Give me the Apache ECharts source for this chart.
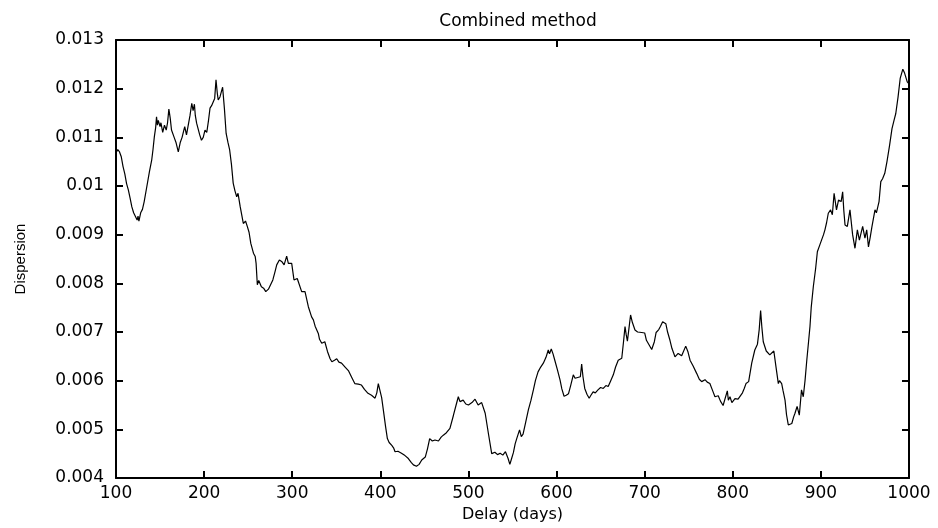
<!DOCTYPE html>
<html>
<head>
<meta charset="utf-8">
<script src="https://cdn.jsdelivr.net/npm/echarts@6/dist/echarts.min.js"></script>
<style>html,body{margin:0;padding:0;background:#fff;}#c{width:938px;height:528px;}</style>
</head>
<body>
<div id="c"></div>
<script>
const titleText = 'Combined method';
const xName = 'Delay (days)';
const yName = 'Dispersion';

const days = [
100,102,104,106,108,110,112,114,116,118,120,122,124,125,126,128,130,132,135,138,140.5,142,143.5,145,146,147,148,150,151,153,155,157,158.5,160,161.5,163,166,168,170.7,173,175,177,178,180,182,184,186,187.5,189,190,191.5,193,195,197,199,201,203,205,206.7,208.5,210,212,213.5,215,216,218,219.5,221,223,225,227,229,231,233,235,237,238.5,241,242.5,244.5,247,249,251,253,256,258,259,260.4,262,265,267.5,270,273,275,278,280.5,282.4,285.4,288,290.8,293.7,295.6,299.4,302,305.7,310.7,314.5,318.3,322,324,326,329.6,331,333.5,337,340,343,345,348,350.5,353,356,360,364,368,371,375,378.6,382,386,390,394,396,397.7,399.6,401.5,403.4,406,408,410,413,415,416.7,420,424,428,431.8,435,437.5,441,444,447,451,453.5,456,459,462,466,469,471.5,475,479,483,486,488.5,490.4,494,497,500,504,507.5,511,515,519,522.6,526.4,530,533,536,539,542,545,547,549,551,553,554.8,558,560,562,565,568,571,573.7,576,579,582,585,588,590.6,592,594,596,598,601,604,606,608.5,611,613.5,616,619,621,623,627,628.5,630,632,634.5,637,639,641.5,644,647,650,653,656,658.6,661,664.4,667,670,674,676,677.7,679,680.4,682,684,686,689,692,696.6,700,702,704,708,711,713,716,718,720.4,724,726,728.7,731,734.4,738,742,746.6,749,751.5,755,759,762,764.7,768.5,771,774,777,779.8,783.5,786,789,791,793.8,795,796.8,799,802.5,806,808,811,813,815,818,821.5,825,828,830,831.6,833,834.6,838,842,844,846.6,849,851.7,853,855.5,857,859.3,861,863,865,867,869,870.6,873,875.5,878,880,882,884,886,887.6,889,891.4,894,896,899,901,903,904.6,906.5,908.4,911,913,915,917.7,920,923,924.7,926,927.4,930,933,936,938.7,941.4,943.7,947.4,950,952,954,956,958,961.4,963,966,968,970,972.5,975,978,980.7,983,985,987.6,990,993,995,998,1000
];

const dispersion = [
0.01068,0.01075,0.01070,0.01060,0.01040,0.01025,0.01005,0.00992,0.00975,0.00957,0.00945,0.00942,0.00930,0.00938,0.00928,0.00945,0.00952,0.00968,0.00999,0.01030,0.01053,0.01075,0.01101,0.01120,0.01142,0.01125,0.01135,0.01122,0.01130,0.01110,0.01125,0.01115,0.01130,0.01158,0.01140,0.01115,0.01100,0.01090,0.01070,0.01090,0.01100,0.01115,0.01122,0.01105,0.01125,0.01145,0.01170,0.01155,0.01168,0.01145,0.01129,0.01125,0.01105,0.01094,0.01100,0.01115,0.01110,0.01135,0.01160,0.01165,0.01168,0.01180,0.01218,0.01190,0.01177,0.01183,0.01180,0.01203,0.01160,0.01108,0.01090,0.01074,0.01045,0.01006,0.00990,0.00978,0.00985,0.00957,0.00960,0.00923,0.00928,0.00917,0.00905,0.00882,0.00862,0.00855,0.00841,0.00797,0.00806,0.00793,0.00790,0.00783,0.00788,0.00786,0.00807,0.00824,0.00838,0.00848,0.00845,0.00838,0.00856,0.00841,0.00841,0.00807,0.00810,0.00783,0.00783,0.00752,0.00731,0.00725,0.00712,0.00697,0.00685,0.00677,0.00680,0.00660,0.00645,0.00639,0.00642,0.00645,0.00638,0.00636,0.00628,0.00620,0.00605,0.00594,0.00593,0.00591,0.00582,0.00574,0.00570,0.00564,0.00575,0.00594,0.00592,0.00565,0.00540,0.00505,0.00481,0.00473,0.00467,0.00462,0.00454,0.00455,0.00451,0.00446,0.00440,0.00432,0.00427,0.00424,0.00428,0.00437,0.00443,0.00460,0.00481,0.00476,0.00478,0.00476,0.00484,0.00488,0.00493,0.00502,0.00529,0.00550,0.00567,0.00557,0.00560,0.00552,0.00550,0.00555,0.00562,0.00550,0.00555,0.00533,0.00492,0.00450,0.00453,0.00448,0.00451,0.00447,0.00454,0.00440,0.00428,0.00440,0.00452,0.00470,0.00481,0.00499,0.00485,0.00490,0.00515,0.00540,0.00560,0.00581,0.00600,0.00618,0.00628,0.00636,0.00648,0.00663,0.00655,0.00665,0.00655,0.00642,0.00622,0.00601,0.00583,0.00568,0.00570,0.00573,0.00590,0.00612,0.00605,0.00608,0.00608,0.00634,0.00608,0.00584,0.00572,0.00564,0.00570,0.00577,0.00575,0.00581,0.00586,0.00584,0.00590,0.00588,0.00598,0.00612,0.00628,0.00642,0.00646,0.00680,0.00711,0.00695,0.00681,0.00705,0.00735,0.00720,0.00704,0.00700,0.00699,0.00698,0.00683,0.00680,0.00664,0.00680,0.00699,0.00705,0.00712,0.00721,0.00717,0.00700,0.00683,0.00666,0.00649,0.00656,0.00651,0.00671,0.00660,0.00642,0.00630,0.00615,0.00603,0.00598,0.00602,0.00597,0.00594,0.00580,0.00567,0.00569,0.00558,0.00549,0.00552,0.00579,0.00560,0.00567,0.00555,0.00563,0.00562,0.00564,0.00575,0.00584,0.00594,0.00598,0.00636,0.00663,0.00675,0.00705,0.00744,0.00710,0.00680,0.00661,0.00653,0.00655,0.00661,0.00629,0.00594,0.00600,0.00594,0.00580,0.00560,0.00530,0.00509,0.00505,0.00512,0.00525,0.00533,0.00547,0.00529,0.00581,0.00567,0.00600,0.00642,0.00680,0.00711,0.00750,0.00793,0.00830,0.00865,0.00880,0.00880,0.00900,0.00910,0.00925,0.00944,0.00951,0.00941,0.00985,0.00951,0.00971,0.00968,0.00988,0.00950,0.00920,0.00917,0.00951,0.00900,0.00872,0.00910,0.00889,0.00917,0.00893,0.00910,0.00875,0.00895,0.00917,0.00951,0.00945,0.00968,0.01009,0.01015,0.01026,0.01050,0.01084,0.01118,0.01135,0.01149,0.01183,0.01221,0.01240,0.01232,0.01214,0.01210
];

const xMin = 100, xMax = 1000, xStep = 100;
const yMin = 0.004, yMax = 0.013, yStep = 0.001;

const seriesData = days.map((d, i) => [d, dispersion[i]]);
const FONT = 'DejaVu Sans';

const chart = echarts.init(document.getElementById('c'), null, {renderer: 'canvas'});
const axisCommon = {
  axisLine: {show: true, onZero: false, lineStyle: {color: '#000', width: 2}},
  axisTick: {show: true, inside: true, length: 7, lineStyle: {color: '#000', width: 2}},
  splitLine: {show: false}
};
chart.setOption({
  animation: false,
  backgroundColor: '#fff',
  title: {
    text: titleText,
    left: 513,
    textAlign: 'center',
    top: 8,
    textStyle: {fontFamily: FONT, fontSize: 17, fontWeight: 'normal', color: '#000'}
  },
  grid: {left: 116, right: 29, top: 40, bottom: 50},
  xAxis: [
    Object.assign({
      type: 'value', min: xMin, max: xMax, interval: xStep, position: 'bottom',
      name: xName, nameLocation: 'middle', nameGap: 29,
      nameTextStyle: {fontFamily: FONT, fontSize: 16, color: '#000'},
      axisLabel: {fontFamily: FONT, fontSize: 17, color: '#000', margin: 7,
        formatter: v => String(v)}
    }, axisCommon),
    Object.assign({
      type: 'value', min: xMin, max: xMax, interval: xStep, position: 'top',
      axisLabel: {show: false}
    }, axisCommon)
  ],
  yAxis: [
    Object.assign({
      type: 'value', min: yMin, max: yMax, interval: yStep, position: 'left',
      name: yName, nameLocation: 'middle', nameGap: 88, nameRotate: 90,
      nameTextStyle: {fontFamily: 'Liberation Sans', fontSize: 15, color: '#000'},
      axisLabel: {fontFamily: FONT, fontSize: 17, color: '#000', margin: 12,
        formatter: v => String(parseFloat(v.toFixed(3)))}
    }, axisCommon),
    Object.assign({
      type: 'value', min: yMin, max: yMax, interval: yStep, position: 'right',
      axisLabel: {show: false}
    }, axisCommon)
  ],
  series: [{
    type: 'line',
    data: seriesData,
    xAxisIndex: 0,
    yAxisIndex: 0,
    showSymbol: false,
    symbol: 'none',
    lineStyle: {color: '#000', width: 1.2},
    silent: true
  }]
});
</script>
</body>
</html>
